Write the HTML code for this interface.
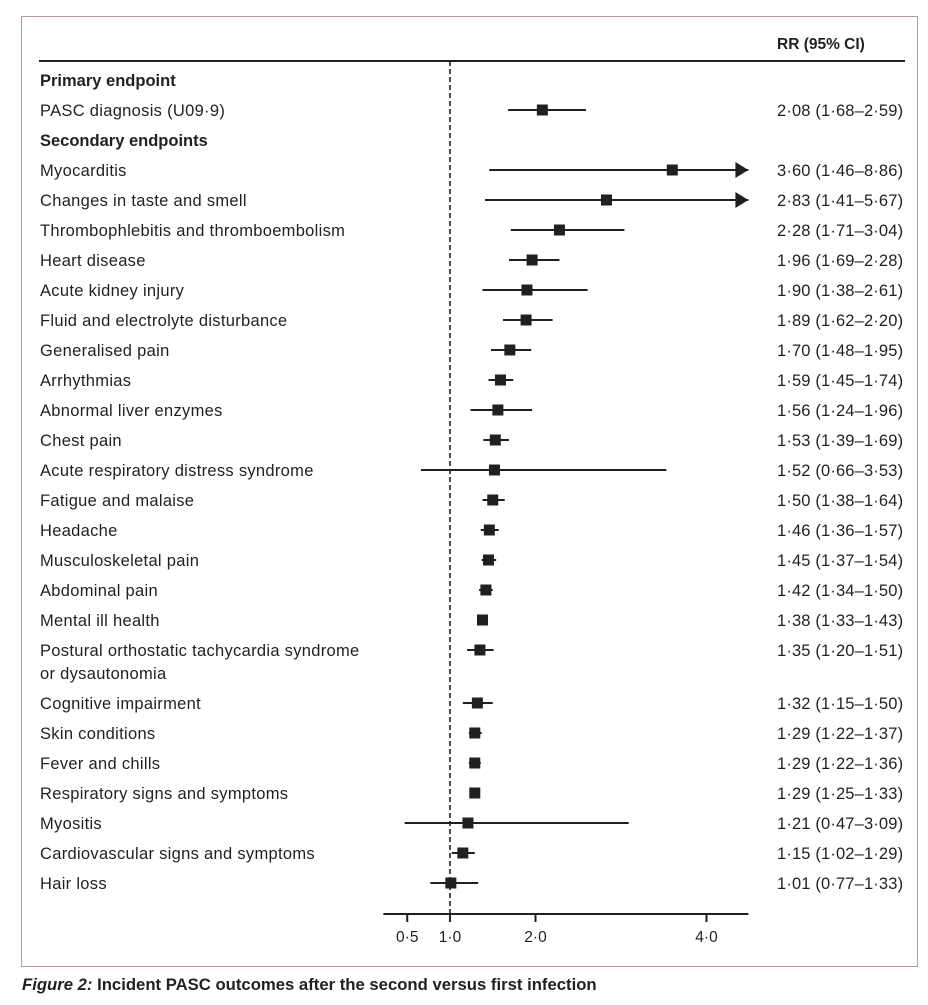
<!DOCTYPE html>
<html><head><meta charset="utf-8"><style>
body{margin:0;background:#fff;width:928px;height:1000px;overflow:hidden;font-family:"Liberation Sans",sans-serif;color:#231f20}
svg text{font-family:"Liberation Sans",sans-serif;fill:#231f20}
</style></head><body>
<svg id="chart" width="928" height="1000">
<rect x="21.5" y="16.5" width="896" height="950" fill="none" stroke="#b59a9e" stroke-width="1"/>
<line x1="39" y1="61" x2="905" y2="61" stroke="#231f20" stroke-width="2"/>
<text x="777" y="49" font-size="15.5" font-weight="bold">RR (95% CI)</text>
<text x="22" y="990" font-size="16.7" font-weight="bold" fill="#231f20"><tspan font-style="italic">Figure 2:</tspan> Incident PASC outcomes after the second versus first infection</text>
<g id="rows"></g>
</svg>
<script>
const labels=["PASC diagnosis (U09·9)","Myocarditis","Changes in taste and smell","Thrombophlebitis and thromboembolism","Heart disease","Acute kidney injury","Fluid and electrolyte disturbance","Generalised pain","Arrhythmias","Abnormal liver enzymes","Chest pain","Acute respiratory distress syndrome","Fatigue and malaise","Headache","Musculoskeletal pain","Abdominal pain","Mental ill health","Postural orthostatic tachycardia syndrome|or dysautonomia","Cognitive impairment","Skin conditions","Fever and chills","Respiratory signs and symptoms","Myositis","Cardiovascular signs and symptoms","Hair loss"];
const rr=[2.08,3.60,2.83,2.28,1.96,1.90,1.89,1.70,1.59,1.56,1.53,1.52,1.50,1.46,1.45,1.42,1.38,1.35,1.32,1.29,1.29,1.29,1.21,1.15,1.01];
const lo=[1.68,1.46,1.41,1.71,1.69,1.38,1.62,1.48,1.45,1.24,1.39,0.66,1.38,1.36,1.37,1.34,1.33,1.20,1.15,1.22,1.22,1.25,0.47,1.02,0.77];
const hi=[2.59,8.86,5.67,3.04,2.28,2.61,2.20,1.95,1.74,1.96,1.69,3.53,1.64,1.57,1.54,1.50,1.43,1.51,1.50,1.37,1.36,1.33,3.09,1.29,1.33];
const ticks=[0.5,1.0,2.0,4.0];
const tickLabels=["0·5","1·0","2·0","4·0"];
const xMin=0.22,xMax=4.49;
const X=v=>450+(v-1)*85.5;
const f=v=>v.toFixed(2).replace('.','·');
const NS="http://www.w3.org/2000/svg";
const svg=document.getElementById('chart');
function mk(tag,attrs){const e=document.createElementNS(NS,tag);for(const k in attrs)e.setAttribute(k,attrs[k]);svg.appendChild(e);return e;}
let t=mk('text',{x:40,y:86,'font-size':16.5,'font-weight':'bold'});t.textContent="Primary endpoint";


t=mk('text',{x:40,y:146,'font-size':16.5,'font-weight':'bold'});t.textContent="Secondary endpoints";


let ref=mk('line',{x1:X(1),y1:61,x2:X(1),y2:914,stroke:'#231f20','stroke-width':1.6,'stroke-dasharray':'5,3'});


let y=110;
labels.forEach((lab,i)=>{
  if(i===1)y=170;
  const parts=lab.split('|');
  parts.forEach((p,j)=>{const e=mk('text',{x:40,y:y+6+j*23,'font-size':16.5,'letter-spacing':0.3});e.textContent=p;
    
    });
  const hiC=Math.min(hi[i],xMax);
  const ci=mk('line',{x1:X(lo[i]),y1:y,x2:X(hiC),y2:y,stroke:'#231f20','stroke-width':2});
  
  
  if(hi[i]>xMax){const a=mk('polygon',{points:`${X(xMax)-13},${y-8} ${X(xMax)},${y} ${X(xMax)-13},${y+8}`,fill:'#231f20'});
    
    }
  const s=11;
  const b=mk('rect',{x:X(rr[i])-s/2,y:y-s/2,width:s,height:s,fill:'#231f20'});
  
  
  const v=mk('text',{x:777,y:y+6,'font-size':16.5,'letter-spacing':0.15});v.textContent=`${f(rr[i])} (${f(lo[i])}–${f(hi[i])})`;
  
  
  y+=30+(parts.length-1)*23;
});
const ax=mk('line',{x1:X(xMin),y1:914,x2:X(xMax),y2:914,stroke:'#231f20','stroke-width':2});


ticks.forEach((tv,i)=>{
  const l=mk('line',{x1:X(tv),y1:914,x2:X(tv),y2:922,stroke:'#231f20','stroke-width':2});
  
  
  const tx=mk('text',{x:X(tv),y:942,'font-size':15.5,'text-anchor':'middle'});tx.textContent=tickLabels[i];
  
  
});
</script>
</body></html>
